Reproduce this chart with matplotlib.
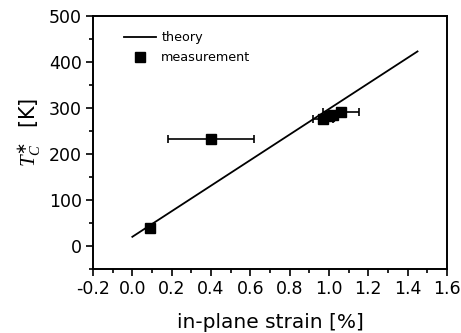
import numpy as np
import matplotlib
matplotlib.use("Agg")
import matplotlib.pyplot as plt
from matplotlib.ticker import MultipleLocator

plt.rcParams['font.family'] = ['DejaVu Sans']
plt.rcParams['mathtext.fontset'] = 'custom'
plt.rcParams['mathtext.it'] = 'Liberation Serif:italic'
plt.rcParams['mathtext.rm'] = 'DejaVu Sans'

# theory line
theory_strain = [0.0, 1.45]
theory_tc = [20, 423]

# measurements
meas_strain = [0.09, 0.40, 0.97, 1.00, 1.02, 1.06]
meas_tc = [40, 233, 277, 282, 285, 291]
meas_xerr = [0.0, 0.22, 0.05, 0.0, 0.0, 0.09]

fig = plt.figure(figsize=(4.61, 3.33), dpi=100)
ax = fig.add_axes([93/461, 1-269/333, 354/461, 253/333])

ax.plot(theory_strain, theory_tc, color='black', lw=1.3, label='theory')
ax.errorbar(meas_strain, meas_tc, xerr=meas_xerr, fmt='none', ecolor='black',
            capsize=3, elinewidth=1.2, capthick=1.2)
ax.plot(meas_strain, meas_tc, 's', color='black', ms=7, ls='none', label='measurement')

ax.set_xlim(-0.2, 1.6)
ax.set_ylim(-50, 500)
ax.xaxis.set_major_locator(MultipleLocator(0.2))
ax.xaxis.set_minor_locator(MultipleLocator(0.1))
ax.yaxis.set_major_locator(MultipleLocator(100))
ax.yaxis.set_minor_locator(MultipleLocator(50))
ax.set_xticklabels([f"{v:.1f}" for v in ax.get_xticks()])
ax.tick_params(which='both', direction='out', width=1.2, labelsize=12.5, pad=3)
ax.tick_params(which='major', length=5)
ax.tick_params(which='minor', length=3)
for s in ax.spines.values():
    s.set_linewidth(1.4)

ax.set_xlabel('in-plane strain [%]', fontsize=14.5, labelpad=11)
ax.set_ylabel(r'$T_C^{\ast}$  [K]', fontsize=15)
ax.yaxis.set_label_coords(-0.14, 0.54)

h, l = ax.get_legend_handles_labels()
ax.legend(h, l, loc='upper left', frameon=False, fontsize=9.2,
          handlelength=2.5, handletextpad=0.4, borderaxespad=0.8,
          labelspacing=0.55, bbox_to_anchor=(0.045, 1.0))

fig.savefig('out.png', dpi=100)
